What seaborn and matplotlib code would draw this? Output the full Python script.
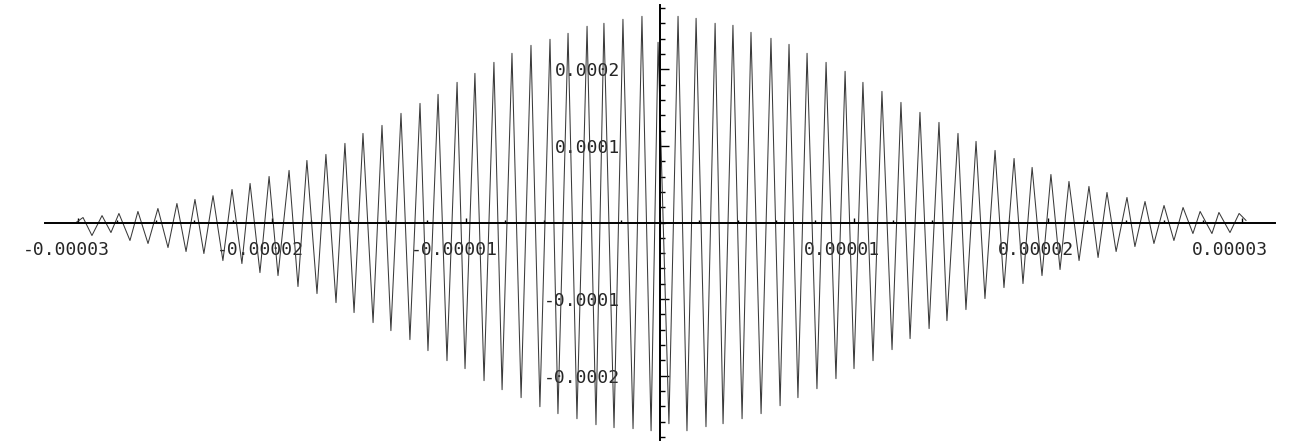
import numpy as np
import pandas as pd
import matplotlib
matplotlib.use("Agg")
import matplotlib.pyplot as plt
from matplotlib.transforms import ScaledTranslation
import seaborn as sns

# ---- data (x and y in units of 1e-6) ----
start_pt = (-30.10, 0.0)
end_pt = (30.21, 2.6)

peak_x_left = [-29.74, -28.76, -27.89, -26.91, -25.88, -24.90, -23.97, -23.04, -22.06, -21.13,
               -20.15, -19.12, -18.20, -17.22, -16.24, -15.31, -14.33, -13.35, -12.37, -11.44,
               -10.46, -9.54, -8.56, -7.63, -6.65, -5.67, -4.74, -3.76, -2.89, -1.91,
               -0.93, -0.10]
peak_y_left = [6.5, 9.0, 11.8, 14.4, 18.3, 24.8, 30.1, 35.0, 43.1, 51.0,
               60.1, 68.0, 81.0, 88.9, 103.3, 116.3, 126.8, 142.5, 155.5, 167.3,
               183.0, 194.7, 209.1, 220.9, 231.3, 239.2, 247.0, 256.2, 260.1, 265.3,
               269.2, 235.3]
peak_x_right = [0.93, 1.86, 2.84, 3.76, 4.69, 5.72, 6.65, 7.58, 8.56, 9.54,
                10.46, 11.44, 12.42, 13.40, 14.38, 15.36, 16.29, 17.27, 18.25, 19.18,
                20.15, 21.08, 22.11, 23.04, 24.07, 25.00, 25.98, 26.96, 27.84, 28.81,
                29.85]
peak_y_right = [269.2, 266.6, 260.1, 257.5, 248.3, 240.5, 232.6, 220.9, 209.1, 197.4,
                183.0, 171.2, 156.8, 143.8, 130.7, 116.3, 105.9, 94.1, 83.6, 71.9,
                62.7, 53.6, 47.1, 39.2, 32.7, 27.4, 22.2, 19.6, 14.4, 13.1,
                11.8]
trough_x_left = [-29.28, -28.30, -27.32, -26.39, -25.36, -24.43, -23.51, -22.53, -21.55, -20.62,
                 -19.69, -18.66, -17.68, -16.70, -15.77, -14.79, -13.87, -12.89, -11.96, -10.98,
                 -10.05, -9.07, -8.14, -7.16, -6.19, -5.26, -4.28, -3.30, -2.37, -1.39,
                 -0.46]
trough_y_left = [-17.0, -13.1, -23.5, -27.4, -32.7, -37.9, -40.5, -49.7, -53.6, -65.4,
                 -69.3, -83.6, -92.8, -104.6, -117.6, -130.7, -141.2, -152.9, -167.3, -180.4,
                 -190.8, -206.5, -218.3, -228.7, -240.5, -249.6, -256.2, -264.0, -267.9, -269.2,
                 -271.9]
trough_x_right = [0.46, 1.39, 2.37, 3.25, 4.23, 5.21, 6.19, 7.11, 8.09, 9.07,
                  10.00, 10.98, 11.96, 12.89, 13.87, 14.79, 15.77, 16.75, 17.73, 18.71,
                  19.69, 20.62, 21.60, 22.58, 23.51, 24.48, 25.46, 26.49, 27.47, 28.45,
                  29.38]
trough_y_right = [-262.7, -271.9, -266.6, -262.7, -256.2, -249.6, -239.2, -228.7, -217.0, -203.9,
                  -190.8, -180.4, -166.0, -151.6, -138.5, -128.1, -113.7, -99.3, -85.0, -79.7,
                  -69.3, -61.4, -49.7, -45.7, -37.9, -31.4, -27.4, -23.5, -14.4, -14.4,
                  -13.1]

x_ticks = [-3e-5, -2e-5, -1e-5, 1e-5, 2e-5, 3e-5]
x_tick_labels = ["-0.00003", "-0.00002", "-0.00001", "0.00001", "0.00002", "0.00003"]
y_ticks = [-2e-4, -1e-4, 1e-4, 2e-4]
y_tick_labels = ["-0.0002", "-0.0001", "0.0001", "0.0002"]

# ---- build polyline ----
xs = [start_pt[0]] + peak_x_left + peak_x_right + trough_x_left + trough_x_right + [end_pt[0]]
ys = [start_pt[1]] + peak_y_left + peak_y_right + trough_y_left + trough_y_right + [end_pt[1]]
df = pd.DataFrame({"x": np.array(xs) * 1e-6, "y": np.array(ys) * 1e-6})
df = df.sort_values("x").reset_index(drop=True)

sns.set_style("white")
plt.rcParams["font.family"] = ["DejaVu Sans Mono", "DejaVu Sans"]

fig = plt.figure(figsize=(12.89, 4.45), dpi=100)
ax = fig.add_axes([45 / 1289, 5 / 445, 1230 / 1289, 435 / 445])

sns.lineplot(data=df, x="x", y="y", sort=False, estimator=None,
             color="#3a3a3a", linewidth=0.75, ax=ax, legend=False)

ax.set_xlim(-31.7e-6, 31.7e-6)
ax.set_ylim(-284e-6, 284e-6)

for side in ["top", "right"]:
    ax.spines[side].set_visible(False)
ax.spines["left"].set_position(("data", 0))
ax.spines["bottom"].set_position(("data", 0))
for side in ["left", "bottom"]:
    ax.spines[side].set_linewidth(1.4)
    ax.spines[side].set_color("black")

ax.set_xticks(x_ticks)
ax.set_xticklabels(x_tick_labels)
ax.set_xticks(np.arange(-30e-6, 30.5e-6, 2e-6), minor=True)
ax.set_yticks(y_ticks)
ax.set_yticklabels(y_tick_labels)
ax.set_yticks(np.arange(-28e-5, 28.5e-5, 2e-5), minor=True)

ax.tick_params(axis="both", which="both", direction="in", color="black", width=1.0,
               left=True, bottom=True, right=False, top=False)
ax.tick_params(axis="y", which="major", length=6.5)
ax.tick_params(axis="y", which="minor", length=3.5)
ax.tick_params(axis="x", which="major", length=3.5)
ax.tick_params(axis="x", which="minor", length=2.0)
ax.tick_params(axis="x", which="major", pad=13.5, labelsize=13)
ax.tick_params(axis="y", which="major", pad=28.5, labelsize=13)
ax.set_xlabel("")
ax.set_ylabel("")
ax.patch.set_alpha(0)

fig.canvas.draw()
shift = ScaledTranslation(-12 / 100, 0, fig.dpi_scale_trans)
for t in ax.xaxis.get_major_ticks():
    t.label1.set_transform(t.label1.get_transform() + shift)

fig.savefig("out.png", dpi=100, facecolor="white")
